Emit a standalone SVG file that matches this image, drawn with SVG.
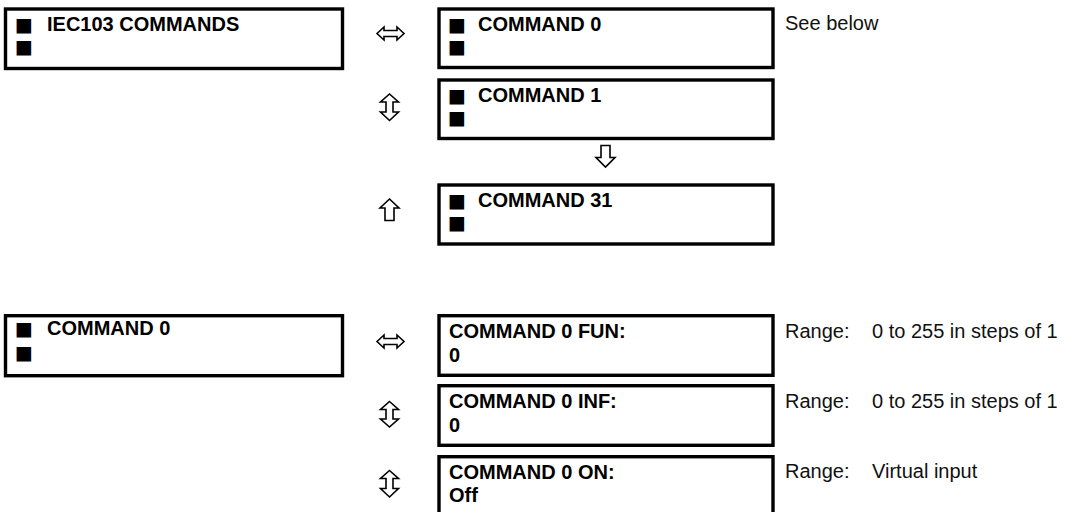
<svg xmlns="http://www.w3.org/2000/svg" width="1069" height="512" viewBox="0 0 1069 512">
<style>
.box{fill:#fff;stroke:#000;stroke-width:3.4}
.lbl{font-family:"Liberation Sans",Arial,sans-serif;font-size:20px;font-weight:bold;fill:#000}
.sq{font-family:"DejaVu Sans",sans-serif;font-size:19px;font-weight:normal;fill:#000}
.note{font-family:"Liberation Sans",Arial,sans-serif;font-size:20px;fill:#111}
.arr{fill:#fff;stroke:#000;stroke-width:1.6;stroke-linejoin:miter}
</style>
<rect width="1069" height="512" fill="#fff"/>
<g id="node-iec103-commands">
<rect class="box" x="5.5" y="9" width="337" height="59.5"/>
<text class="lbl" y="31"><tspan class="sq" x="15">■ </tspan><tspan x="47">IEC103 COMMANDS</tspan></text>
<text class="sq" x="15" y="53">■</text>
</g>
<g id="node-command0">
<rect class="box" x="439" y="9" width="334" height="58.5"/>
<text class="lbl" y="31"><tspan class="sq" x="448">■ </tspan><tspan x="478">COMMAND 0</tspan></text>
<text class="sq" x="448" y="53">■</text>
</g>
<g id="node-command1">
<rect class="box" x="439" y="80" width="334" height="58.5"/>
<text class="lbl" y="102"><tspan class="sq" x="448">■ </tspan><tspan x="478">COMMAND 1</tspan></text>
<text class="sq" x="448" y="124">■</text>
</g>
<g id="node-command31">
<rect class="box" x="439" y="185" width="334" height="59"/>
<text class="lbl" y="207"><tspan class="sq" x="448">■ </tspan><tspan x="478">COMMAND 31</tspan></text>
<text class="sq" x="448" y="229">■</text>
</g>
<g id="note-see-below">
<text class="note" x="785" y="30">See below</text>
</g>
<g id="node-command0-menu">
<rect class="box" x="5.5" y="315.7" width="337" height="60"/>
<text class="lbl" y="335"><tspan class="sq" x="15">■ </tspan><tspan x="47">COMMAND 0</tspan></text>
<text class="sq" x="15" y="359">■</text>
</g>
<g id="node-fun">
<rect class="box" x="439" y="315.7" width="334" height="59.6"/>
<text class="lbl" x="449" y="338">COMMAND 0 FUN:</text>
<text class="lbl" x="449" y="362">0</text>
</g>
<g id="node-inf">
<rect class="box" x="439" y="385.7" width="334" height="59.6"/>
<text class="lbl" x="449" y="408">COMMAND 0 INF:</text>
<text class="lbl" x="449" y="432">0</text>
</g>
<g id="node-on">
<rect class="box" x="439" y="456.7" width="334" height="60"/>
<text class="lbl" x="449" y="479">COMMAND 0 ON:</text>
<text class="lbl" x="449" y="502">Off</text>
</g>
<g id="notes-range">
<text class="note" y="338"><tspan x="785">Range:</tspan><tspan x="872">0 to 255 in steps of 1</tspan></text>
<text class="note" y="408"><tspan x="785">Range:</tspan><tspan x="872">0 to 255 in steps of 1</tspan></text>
<text class="note" y="478"><tspan x="785">Range:</tspan><tspan x="872">Virtual input</tspan></text>
</g>
<g id="connectors">
<path class="arr" d="M377,33.5 L384,27 L384,30.5 L397,30.5 L397,27 L404,33.5 L397,40 L397,36.5 L384,36.5 L384,40 Z"/>
<path class="arr" d="M389.5,94 L398.5,102 L393,102 L393,112 L398.5,112 L389.5,120.5 L380.5,112 L386,112 L386,102 L380.5,102 Z"/>
<path class="arr" d="M601,145.5 L610,145.5 L610,157.5 L615,157.5 L605.5,167 L596,157.5 L601,157.5 Z"/>
<path class="arr" d="M389.5,199 L399,208 L394,208 L394,220.5 L385,220.5 L385,208 L380,208 Z"/>
<path class="arr" d="M377,341.5 L384,335 L384,338.5 L397,338.5 L397,335 L404,341.5 L397,348 L397,344.5 L384,344.5 L384,348 Z"/>
<path class="arr" d="M389.5,401.5 L398.5,409.5 L393,409.5 L393,419 L398.5,419 L389.5,427 L380.5,419 L386,419 L386,409.5 L380.5,409.5 Z"/>
<path class="arr" d="M389.5,470.5 L398.5,478.5 L393,478.5 L393,488.5 L398.5,488.5 L389.5,497 L380.5,488.5 L386,488.5 L386,478.5 L380.5,478.5 Z"/>
</g>
</svg>
